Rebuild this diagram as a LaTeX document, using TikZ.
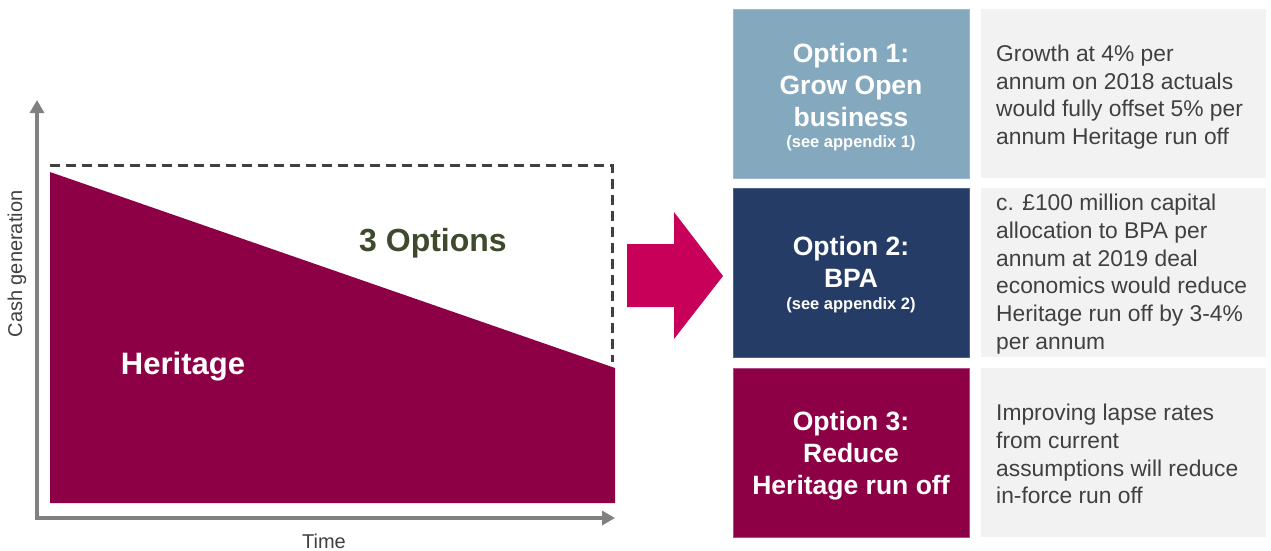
\documentclass[tikz,border=0pt]{standalone}
\usepackage{fontspec}
\setmainfont{Liberation Sans}
\usetikzlibrary{arrows.meta}
\definecolor{heritage}{HTML}{8E0046}
\definecolor{arrowc}{HTML}{C8005A}
\definecolor{opt1}{HTML}{84A8BE}
\definecolor{opt2}{HTML}{253D66}
\definecolor{greybox}{HTML}{F2F2F2}
\definecolor{darktext}{HTML}{404040}
\definecolor{olive}{HTML}{3F4A2C}
\definecolor{axisgrey}{HTML}{808080}
\newcommand{\appx}{\fontsize{16.5}{18}\selectfont}
\tikzset{
  optbox/.style={minimum width=236pt, minimum height=169pt, inner sep=0pt},
  opttitle/.style={text=white, align=center, font=\bfseries\fontsize{26.5}{32}\selectfont},
  optappx/.style={text=white, font=\bfseries\appx},
  descbox/.style={fill=greybox, minimum width=285pt, minimum height=169pt, inner sep=0pt},
  desctext/.style={anchor=west, align=left, text=darktext, inner sep=0pt,
    font=\fontsize{22.8}{27.8}\selectfont},
  axis/.style={draw=axisgrey, line width=4.5pt, -{Triangle[length=13pt,width=14pt]}},
  axlabel/.style={text=darktext, font=\fontsize{20}{22}\selectfont}
}
\begin{document}
\begin{tikzpicture}[x=1pt,y=-1pt]
\useasboundingbox (0,0) rectangle (1271,550);
% heritage area
\fill[heritage] (50,172) -- (615,368) -- (615,503) -- (50,503) -- cycle;
% dashed outline
\coordinate (d1) at (50,165);
\coordinate (d2) at (612,165);
\coordinate (d3) at (612,362);
\draw[darktext, line width=3pt, dash pattern=on 10pt off 6pt] (d1) -- (d2) -- (d3);
% axes
\coordinate (o) at (37,518);
\coordinate (ytip) at (37,100);
\coordinate (xtip) at (615,518);
\draw[axis] (o) -- (ytip);
\draw[axis] ([xshift=-2.25pt]o) -- (xtip);
\node[axlabel, rotate=90] (ylab) at (17,264) {Cash generation};
\node[axlabel, anchor=base] (xlab) at (324,548) {Time};
\node[text=olive, font=\bfseries\fontsize{32}{36}\selectfont] (three) at (433,243) {3 Options};
\node[text=white, font=\bfseries\fontsize{31}{36}\selectfont] (her) at (183,367) {Heritage};
% big arrow
\fill[arrowc] (627,244) -- (674,244) -- (674,212) -- (723,276) -- (674,339) -- (674,307) -- (627,307) -- cycle;
% option boxes
\node[optbox, fill=opt1, draw=opt1!80!white, line width=0.8pt] (o1) at (851,93.5) {};
\node[optbox, fill=opt2, draw=opt2!80!white, line width=0.8pt] (o2) at (851,272.5) {};
\node[optbox, fill=heritage, draw=heritage!70!white, line width=0.8pt] (o3) at (851,452.5) {};
\node[opttitle] (o1t) at (851,85) {Option 1:\\Grow Open\\business};
\node[optappx] (o1a) at (851,143) {(see appendix 1)};
\node[opttitle] (o2t) at (851,262) {Option 2:\\BPA};
\node[optappx] (o2a) at (851,305) {(see appendix 2)};
\node[opttitle] (o3t) at (851,456) {Option 3:\\Reduce\\Heritage run off};
\node[descbox] (d1b) at (1123.5,93.5) {};
\node[descbox] (d2b) at (1123.5,272.5) {};
\node[descbox] (d3b) at (1123.5,452.5) {};
\node[desctext] (t1) at (996,97) {Growth at 4\% per\\annum on 2018 actuals\\would fully offset 5\% per\\annum Heritage run off};
\node[desctext] (t2) at (996,274) {c. £100 million capital\\allocation to BPA per\\annum at 2019 deal\\economics would reduce\\Heritage run off by 3-4\%\\per annum};
\node[desctext] (t3) at (996,454) {Improving lapse rates\\from current\\assumptions will reduce\\in-force run off};
\end{tikzpicture}
\end{document}
